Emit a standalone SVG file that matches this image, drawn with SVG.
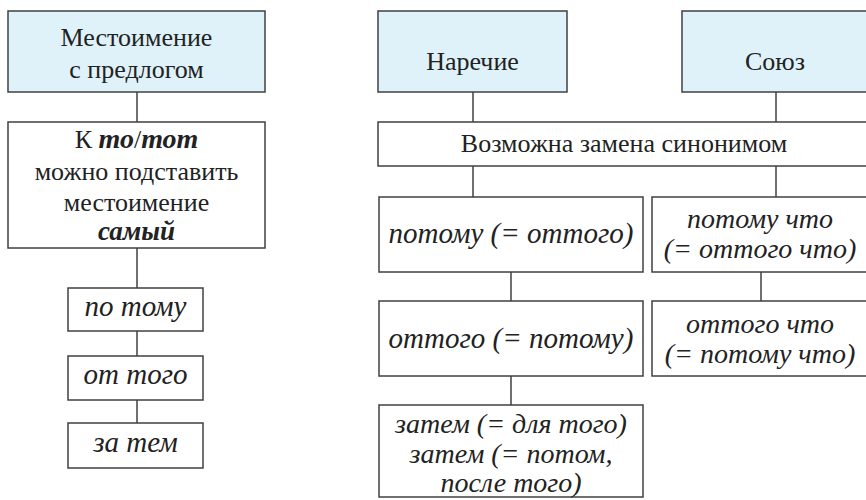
<svg xmlns="http://www.w3.org/2000/svg" width="866" height="500" viewBox="0 0 866 500">
<rect width="866" height="500" fill="#ffffff"/>
<g id="connectors" stroke="#404040" stroke-width="1.5" fill="none">
<line x1="137" y1="92" x2="137" y2="122"/>
<line x1="137" y1="248" x2="137" y2="288"/>
<line x1="137" y1="331" x2="137" y2="356"/>
<line x1="137" y1="400" x2="137" y2="423"/>
<line x1="473" y1="92" x2="473" y2="122"/>
<line x1="776" y1="92" x2="776" y2="122"/>
<line x1="473" y1="166" x2="473" y2="197"/>
<line x1="776" y1="166" x2="776" y2="197"/>
<line x1="511" y1="272" x2="511" y2="301"/>
<line x1="511" y1="376" x2="511" y2="405"/>
<line x1="761" y1="272" x2="761" y2="301"/>
</g>
<g id="nodes" stroke="#404040" stroke-width="1.5" fill="#ffffff">
<g id="n-mest">
<rect x="8" y="11" width="257" height="81" fill="#dff2fa"/>
<text x="136.5" y="46" font-family="Liberation Serif" font-size="26" fill="#222" stroke="none" text-anchor="middle">Местоимение</text>
<text x="136.5" y="78" font-family="Liberation Serif" font-size="26" fill="#222" stroke="none" text-anchor="middle">с предлогом</text>
</g>
<g id="n-k-to">
<rect x="8" y="122" width="257" height="126"/>
<text x="136.5" y="148" font-family="Liberation Serif" font-size="26" fill="#222" stroke="none" text-anchor="middle">К <tspan font-style="italic" font-weight="bold" font-size="28">то</tspan>/<tspan font-style="italic" font-weight="bold" font-size="28">тот</tspan></text>
<text x="136.5" y="180" font-family="Liberation Serif" font-size="26" fill="#222" stroke="none" text-anchor="middle">можно подставить</text>
<text x="136.5" y="211" font-family="Liberation Serif" font-size="26" fill="#222" stroke="none" text-anchor="middle">местоимение</text>
<text x="136.5" y="240" font-family="Liberation Serif" font-size="27" fill="#222" stroke="none" text-anchor="middle" font-style="italic" font-weight="bold">самый</text>
</g>
<g id="n-po-tomu">
<rect x="68" y="288" width="135" height="43"/>
<text x="135.5" y="316" font-family="Liberation Serif" font-size="29" fill="#222" stroke="none" text-anchor="middle" font-style="italic">по тому</text>
</g>
<g id="n-ot-togo">
<rect x="68" y="356" width="135" height="44"/>
<text x="135.5" y="384" font-family="Liberation Serif" font-size="29" fill="#222" stroke="none" text-anchor="middle" font-style="italic">от того</text>
</g>
<g id="n-za-tem">
<rect x="68" y="423" width="135" height="45"/>
<text x="135.5" y="452" font-family="Liberation Serif" font-size="29" fill="#222" stroke="none" text-anchor="middle" font-style="italic">за тем</text>
</g>
<g id="n-narechie">
<rect x="378" y="11" width="189" height="81" fill="#dff2fa"/>
<text x="472.5" y="70" font-family="Liberation Serif" font-size="26" fill="#222" stroke="none" text-anchor="middle">Наречие</text>
</g>
<g id="n-soyuz">
<rect x="682" y="11" width="188" height="81" fill="#dff2fa"/>
<text x="775" y="70" font-family="Liberation Serif" font-size="26" fill="#222" stroke="none" text-anchor="middle">Союз</text>
</g>
<g id="n-zamena">
<rect x="378" y="122" width="492" height="44"/>
<text x="624" y="152" font-family="Liberation Serif" font-size="26" fill="#222" stroke="none" text-anchor="middle">Возможна замена синонимом</text>
</g>
<g id="n-potomu">
<rect x="379" y="197" width="264" height="75"/>
<text x="511" y="243" font-family="Liberation Serif" font-size="29" fill="#222" stroke="none" text-anchor="middle" font-style="italic">потому (= оттого)</text>
</g>
<g id="n-ottogo">
<rect x="379" y="301" width="264" height="75"/>
<text x="511" y="348" font-family="Liberation Serif" font-size="29" fill="#222" stroke="none" text-anchor="middle" font-style="italic">оттого (= потому)</text>
</g>
<g id="n-zatem">
<rect x="379" y="405" width="264" height="92"/>
<text x="511" y="433" font-family="Liberation Serif" font-size="28" fill="#222" stroke="none" text-anchor="middle" font-style="italic">затем (= для того)</text>
<text x="511" y="463" font-family="Liberation Serif" font-size="28" fill="#222" stroke="none" text-anchor="middle" font-style="italic">затем (= потом,</text>
<text x="511" y="492" font-family="Liberation Serif" font-size="28" fill="#222" stroke="none" text-anchor="middle" font-style="italic">после того)</text>
</g>
<g id="n-potomu-chto">
<rect x="652" y="197" width="218" height="75"/>
<text x="760" y="228" font-family="Liberation Serif" font-size="28" fill="#222" stroke="none" text-anchor="middle" font-style="italic">потому что</text>
<text x="760" y="258" font-family="Liberation Serif" font-size="28" fill="#222" stroke="none" text-anchor="middle" font-style="italic">(= оттого что)</text>
</g>
<g id="n-ottogo-chto">
<rect x="652" y="301" width="218" height="75"/>
<text x="760" y="333" font-family="Liberation Serif" font-size="28" fill="#222" stroke="none" text-anchor="middle" font-style="italic">оттого что</text>
<text x="760" y="363" font-family="Liberation Serif" font-size="28" fill="#222" stroke="none" text-anchor="middle" font-style="italic">(= потому что)</text>
</g>
</g>
</svg>
